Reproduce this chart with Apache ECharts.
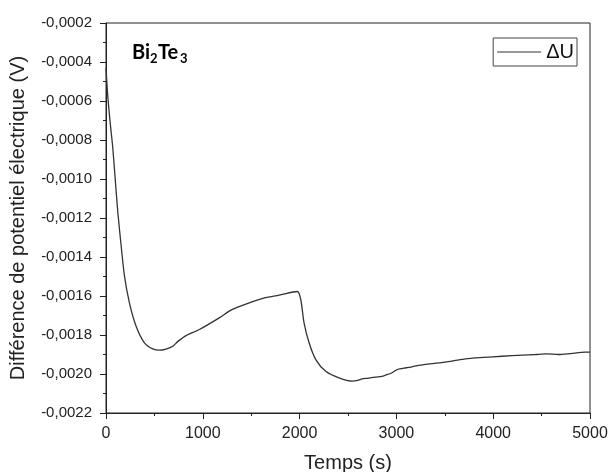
<!DOCTYPE html>
<html>
<head>
<meta charset="utf-8">
<script src="https://cdn.jsdelivr.net/npm/echarts@6/dist/echarts.min.js"></script>
<style>html,body{margin:0;padding:0;background:#fff;}#c{width:608px;height:472px;}</style>
</head>
<body>
<div id="c"></div>
<script>
var seriesName = 'ΔU';
var times = [0, 19, 45, 70, 95, 122, 157, 191, 242, 311, 397, 483, 552, 620, 690, 740, 827, 964, 1170, 1300, 1479, 1620, 1789, 1977, 2012, 2046, 2098, 2167, 2270, 2407, 2544, 2600, 2647, 2700, 2785, 2850, 2888, 2950, 3008, 3100, 3163, 3232, 3438, 3575, 3713, 3900, 4091, 4300, 4435, 4550, 4675, 4800, 4950, 5000];
var values = [-0.00043, -0.00058, -0.00072, -0.00084, -0.00100, -0.00117, -0.001345, -0.001498, -0.001635, -0.001755, -0.00184, -0.001871, -0.001878, -0.001872, -0.001858, -0.001834, -0.001803, -0.001772, -0.001712, -0.00167, -0.001635, -0.001612, -0.001596, -0.001577, -0.001618, -0.001738, -0.00184, -0.001926, -0.001986, -0.00202, -0.002037, -0.002033, -0.002025, -0.002022, -0.002016, -0.002012, -0.002006, -0.001995, -0.001977, -0.001968, -0.001963, -0.001956, -0.001943, -0.001934, -0.001922, -0.001915, -0.001909, -0.001903, -0.0019, -0.001897, -0.0019, -0.001895, -0.001888, -0.001888];
var xTitle = 'Temps (s)';
var yTitle = 'Différence de potentiel électrique (V)';

var data = times.map(function (t, i) { return [t, values[i]]; });
var chart = echarts.init(document.getElementById('c'), null, {renderer: 'canvas'});
var font = 'Liberation Sans, Arial, sans-serif';
var bfont = 'bold 20px Lato, "Open Sans", sans-serif';
var sfont = 'bold 13px Lato, "Open Sans", sans-serif';
chart.setOption({
  animation: false,
  backgroundColor: '#fff',
  grid: {left: 106, right: 18, top: 23, bottom: 59, outerBoundsMode: 'none', containLabel: false,
    show: true, borderColor: '#222', borderWidth: 1, backgroundColor: 'transparent'},
  legend: {
    right: 31, top: 38, orient: 'vertical', borderColor: '#444', borderWidth: 1,
    padding: [4, 3, 4, 4], itemWidth: 44, itemHeight: 1, itemGap: 0, icon: 'rect',
    textStyle: {fontFamily: font, fontSize: 20, color: '#111'},
    data: [seriesName]
  },
  xAxis: {
    type: 'value', min: 0, max: 5000, interval: 1000,
    name: xTitle, nameLocation: 'middle', nameGap: 40,
    nameTextStyle: {fontFamily: font, fontSize: 20, color: '#222'},
    axisLine: {show: true, lineStyle: {color: '#222', width: 1}},
    axisTick: {show: true, inside: false, length: 6, lineStyle: {color: '#222'}},
    minorTick: {show: true, splitNumber: 2, length: 3, lineStyle: {color: '#222'}},
    axisLabel: {fontFamily: font, fontSize: 16, color: '#222', margin: 13,
      formatter: function (v) { return String(Math.round(v)); }},
    splitLine: {show: false}
  },
  yAxis: {
    type: 'value', min: -0.0022, max: -0.0002, interval: 0.0002,
    name: yTitle, nameLocation: 'middle', nameGap: 78, nameRotate: 90,
    nameTextStyle: {fontFamily: font, fontSize: 20, color: '#222'},
    axisLine: {show: true, lineStyle: {color: '#222', width: 1}},
    axisTick: {show: true, inside: false, length: 6, lineStyle: {color: '#222'}},
    minorTick: {show: true, splitNumber: 2, length: 3, lineStyle: {color: '#222'}},
    axisLabel: {fontFamily: font, fontSize: 15, color: '#222', margin: 14,
      formatter: function (v) { return (Math.round(v * 10000) / 10000).toFixed(4).replace('.', ','); }},
    splitLine: {show: false}
  },
  series: [{
    name: seriesName, type: 'line', data: data, symbol: 'none', smooth: 0.25,
    lineStyle: {color: '#333', width: 1.3}, itemStyle: {color: '#333'}
  }],
  graphic: [{
    type: 'group', left: 132, top: 43,
    children: [
      {type: 'text', x: 0, y: 0, style: {text: 'Bi', font: bfont, fill: '#000'}},
      {type: 'text', x: 18, y: 9, style: {text: '2', font: sfont, fill: '#000'}},
      {type: 'text', x: 26, y: 0, style: {text: 'Te', font: bfont, fill: '#000'}},
      {type: 'text', x: 48, y: 9, style: {text: '3', font: sfont, fill: '#000'}}
    ]
  }]
});
</script>
</body>
</html>
